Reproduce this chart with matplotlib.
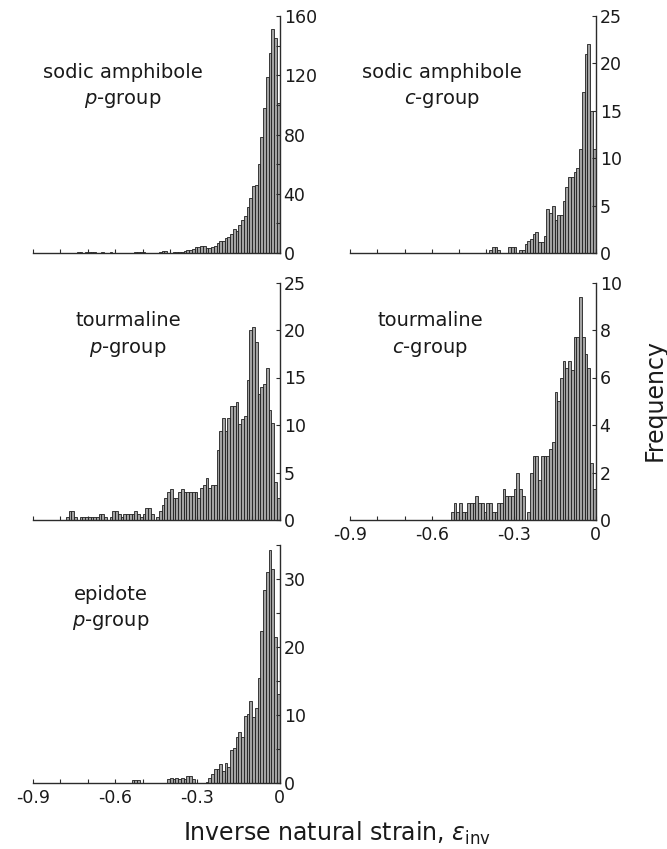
"""Strain histograms for five mineral groups (inverse natural strain)."""

import matplotlib
matplotlib.use("Agg")
import matplotlib.pyplot as plt
import numpy as np
from matplotlib.ticker import MultipleLocator

plt.rcParams["font.family"] = ["DejaVu Sans"]
plt.rcParams["mathtext.fontset"] = "dejavusans"
plt.rcParams["axes.unicode_minus"] = False

# bin left edges, 0.01 wide, from -0.9 to 0
BIN_LEFT = np.round(np.arange(90) * 0.01 - 0.9, 2)

amph_p = [
    0, 0, 0, 0, 0, 0, 0, 0, 0, 0,
    0, 0, 0, 0, 0, 0, 1, 0.5, 0, 1,
    0.5, 1, 0.5, 0, 0, 0.5, 0, 0, 0.5, 0,
    0, 0, 0, 0, 0, 0, 0, 1, 1, 1,
    1, 0, 0, 0, 0, 0, 0.5, 1.5, 1.5, 0,
    0, 0.5, 0.5, 1, 1, 1.5, 2, 2, 3, 4,
    4, 4.5, 4.5, 3.5, 3.5, 4, 4.5, 6.5, 8, 8,
    10, 10.5, 13, 16, 15, 19, 22, 25, 31, 37,
    45, 46, 60, 78, 98, 119, 135, 151, 145, 101,
]

amph_c = [
    0, 0, 0, 0, 0, 0, 0, 0, 0, 0,
    0, 0, 0, 0, 0, 0, 0, 0, 0, 0,
    0, 0, 0, 0, 0, 0, 0, 0, 0, 0,
    0, 0, 0, 0, 0, 0, 0, 0, 0, 0,
    0, 0, 0, 0, 0, 0, 0, 0, 0, 0,
    0, 0.3, 0.6, 0.6, 0.3, 0, 0, 0, 0.6, 0.6,
    0.6, 0, 0.3, 0.3, 1.0, 1.3, 1.5, 2.0, 2.2, 1.2,
    1.2, 1.8, 4.6, 4.2, 5.0, 3.5, 4.0, 4.0, 5.5, 7.0,
    8.0, 8.0, 8.5, 9.0, 11.0, 17.0, 21.0, 22.0, 15.0, 11.0,
]

tour_p = [
    0, 0, 0, 0, 0, 0, 0, 0, 0, 0,
    0, 0, 0.3, 1.0, 1.0, 0.3, 0, 0.3, 0.3, 0.3,
    0.3, 0.3, 0.3, 0.3, 0.6, 0.6, 0.3, 0, 0.3, 1.0,
    1.0, 0.6, 0.3, 0.6, 0.6, 0.6, 0.6, 1.0, 0.6, 0.3,
    0.6, 1.3, 1.3, 0.6, 0, 0.3, 0.9, 1.6, 2.3, 3.0,
    3.3, 2.3, 2.3, 3.0, 3.3, 3.0, 3.0, 3.0, 3.0, 3.0,
    2.3, 3.4, 3.7, 4.4, 3.4, 3.7, 3.7, 7.4, 9.4, 10.7,
    9.4, 10.7, 12.0, 12.0, 12.4, 10.1, 10.6, 11.0, 14.7, 20.0,
    20.3, 18.7, 13.3, 14.0, 14.3, 16.0, 11.6, 10.2, 4.0, 2.3,
]

tour_c = [
    0, 0, 0, 0, 0, 0, 0, 0, 0, 0,
    0, 0, 0, 0, 0, 0, 0, 0, 0, 0,
    0, 0, 0, 0, 0, 0, 0, 0, 0, 0,
    0, 0, 0, 0, 0, 0, 0, 0.35, 0.7, 0.35,
    0.7, 0.35, 0.35, 0.7, 0.7, 0.7, 1.0, 0.7, 0.7, 0.35,
    0.7, 0.7, 0.35, 0.35, 0.7, 0.7, 1.3, 1.0, 1.0, 1.0,
    1.3, 2.0, 1.3, 1.0, 0, 0.35, 2.0, 2.7, 2.7, 1.7,
    2.7, 2.7, 2.7, 3.0, 3.3, 5.4, 5.0, 6.0, 6.7, 6.4,
    6.7, 6.3, 7.7, 7.7, 9.4, 7.7, 7.0, 6.4, 2.4, 1.3,
]

epid_p = [
    0, 0, 0, 0, 0, 0, 0, 0, 0, 0,
    0, 0, 0, 0, 0, 0, 0, 0, 0, 0,
    0, 0, 0, 0, 0, 0, 0, 0, 0, 0,
    0, 0, 0, 0, 0, 0, 0.4, 0.4, 0.4, 0,
    0, 0, 0, 0, 0, 0, 0, 0, 0, 0.6,
    0.8, 0.6, 0.8, 0.6, 0.8, 0.6, 1.0, 1.0, 0.6, 0,
    0, 0, 0, 0.1, 0.8, 1.3, 2.0, 2.0, 2.8, 1.8,
    3.0, 2.3, 4.8, 5.2, 6.7, 7.5, 6.7, 9.8, 10.1, 12.1,
    9.7, 11.1, 15.4, 22.4, 28.4, 31.1, 34.3, 31.4, 21.4, 13.1,
]

XTICKS = [-0.9, -0.6, -0.3, 0]
XTICK_LABELS = ["-0.9", "-0.6", "-0.3", "0"]

# (counts, label line 1, italic letter, ymax, major step, minor step, show x labels)
panels = [
    (amph_p, "sodic amphibole", "p", 160, 40, 20, False),
    (amph_c, "sodic amphibole", "c", 25, 5, 5, False),
    (tour_p, "tourmaline", "p", 25, 5, 5, False),
    (tour_c, "tourmaline", "c", 10, 2, 2, True),
    (epid_p, "epidote", "p", 35, 10, 5, True),
]

W, H = 667, 849
# axes rectangles in pixels: left, right, bottom(y of zero), top
rects = [
    (33, 279.5, 253, 16),
    (350, 595.5, 253, 16),
    (33, 279.5, 520, 282.5),
    (350, 595.5, 520, 282.5),
    (33, 279.5, 783, 545),
]
# label centres in pixels
label_pos = [(123, 72), (442, 72), (128, 320), (430, 320), (111, 594)]

SPINE = "#2b2b2b"
fig = plt.figure(figsize=(W / 100, H / 100), dpi=100)

for (counts, name, letter, ymax, major, minor, xlab), (l, r, b, t), (lx, ly) in zip(
        panels, rects, label_pos):
    ax = fig.add_axes([l / W, 1 - b / H, (r - l) / W, (b - t) / H])
    ax.bar(BIN_LEFT, counts, width=0.01, align="edge",
           color="#a3a3a3", edgecolor="#1e1e1e", linewidth=0.6)
    ax.set_xlim(-0.9, 0)
    ax.set_ylim(0, ymax)
    for side in ("left", "top"):
        ax.spines[side].set_visible(False)
    for side in ("bottom", "right"):
        ax.spines[side].set_color(SPINE)
        ax.spines[side].set_linewidth(1.0)
    ax.yaxis.tick_right()
    ax.yaxis.set_major_locator(MultipleLocator(major))
    ax.yaxis.set_minor_locator(MultipleLocator(minor))
    ax.set_xticks(XTICKS)
    ax.xaxis.set_minor_locator(MultipleLocator(0.1))
    if xlab:
        ax.set_xticklabels(XTICK_LABELS)
    else:
        ax.set_xticklabels([])
    ax.tick_params(axis="both", which="both", direction="in", length=3,
                   width=0.8, color=SPINE, labelsize=12.5, labelcolor="#1a1a1a")
    ax.tick_params(axis="y", which="both", left=False, right=True, pad=3)
    ax.tick_params(axis="x", which="both", top=False, pad=4)

    fig.text(lx / W, 1 - ly / H, name, ha="center", va="center",
             fontsize=14, color="#1a1a1a")
    fig.text(lx / W, 1 - (ly + 29) / H, f"${letter}$-group", ha="center",
             va="center", fontsize=14, color="#1a1a1a")

fig.text(655 / W, 1 - 400 / H, "Frequency", rotation=90, ha="center",
         va="center", fontsize=17, color="#1a1a1a")
fig.text(337 / W, 1 - 833 / H, r"Inverse natural strain, $\varepsilon_{\mathrm{inv}}$",
         ha="center", va="center", fontsize=17, color="#1a1a1a")

fig.savefig("out.png", dpi=100)
